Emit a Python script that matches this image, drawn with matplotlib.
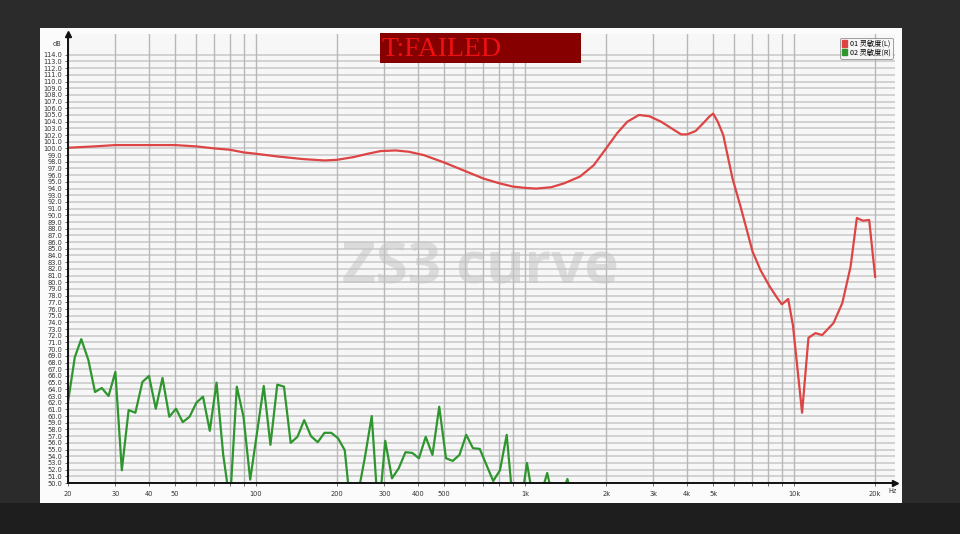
import numpy as np
import matplotlib
matplotlib.use("Agg")
import matplotlib.pyplot as plt
from matplotlib.patches import Rectangle, Patch
from matplotlib.ticker import FixedLocator, NullFormatter

# ---------------- data ----------------
red_freq = [20, 25, 30, 40, 50, 60, 70, 80, 90, 100, 120, 150, 180, 200, 230, 260,
            290, 330, 370, 420, 500, 600, 700, 800, 900, 1000, 1100, 1250, 1400,
            1600, 1800, 2000, 2200, 2400, 2650, 2900, 3200, 3500, 3800, 4000, 4300,
            4600, 4850, 5000, 5200, 5450, 5900, 6300, 6700, 7000, 7500, 8100, 8600,
            9000, 9500, 9900, 10700, 11300, 12000, 12700, 14000, 15100, 16200,
            17100, 18000, 19000, 20000]
red_db = [100.1, 100.3, 100.5, 100.5, 100.5, 100.3, 100.0, 99.8, 99.4, 99.2, 98.8,
          98.4, 98.2, 98.3, 98.7, 99.2, 99.6, 99.7, 99.5, 99.0, 97.9, 96.6, 95.5,
          94.8, 94.3, 94.1, 94.0, 94.2, 94.8, 95.8, 97.5, 100.0, 102.3, 104.0,
          105.0, 104.8, 104.0, 103.0, 102.1, 102.1, 102.6, 103.8, 104.8, 105.2,
          104.0, 102.0, 95.5, 91.5, 87.5, 84.6, 81.8, 79.4, 77.8, 76.7, 77.5, 73.5,
          60.5, 71.7, 72.4, 72.1, 73.9, 76.9, 82.3, 89.6, 89.2, 89.3, 80.8]

green_freq = [20.0, 21.2, 22.4, 23.8, 25.2, 26.7, 28.3, 30.0, 31.7, 33.6, 35.6, 37.8,
              40.0, 42.4, 44.9, 47.6, 50.4, 53.4, 56.6, 60.0, 63.5, 67.3, 71.3, 75.5,
              80.0, 84.8, 89.8, 95.1, 100.8, 106.8, 113.1, 119.9, 127.0, 134.5, 142.5,
              151.0, 160.0, 169.5, 179.6, 190.3, 201.6, 213.6, 226.3, 239.7, 254.0,
              269.1, 285.1, 302.1, 320.0, 339.0, 359.2, 380.5, 403.2, 427.1, 452.5,
              479.5, 508.0, 538.2, 570.2, 604.1, 640.0, 678.1, 718.4, 761.1, 806.3,
              854.3, 905.1, 958.9, 1015.9, 1076.3, 1140.3, 1208.1, 1279.9, 1356.0,
              1436.6, 1522.0]
green_db = [62.1, 68.8, 71.5, 68.4, 63.6, 64.2, 63.0, 66.6, 51.9, 60.9, 60.5, 65.1,
            66.0, 61.1, 65.7, 59.9, 61.1, 59.1, 59.9, 62.0, 62.9, 57.8, 65.0, 54.2,
            47.0, 64.4, 59.9, 50.5, 57.5, 64.5, 55.7, 64.7, 64.4, 56.0, 56.9, 59.4,
            57.0, 56.1, 57.5, 57.5, 56.7, 54.9, 45.0, 48.5, 53.9, 60.0, 45.0, 56.3,
            50.7, 52.2, 54.6, 54.5, 53.7, 56.9, 54.2, 61.4, 53.7, 53.3, 54.2, 57.2,
            55.2, 55.1, 52.7, 50.3, 51.9, 57.2, 46.0, 46.0, 53.0, 47.0, 48.0, 51.5,
            47.0, 48.0, 50.6, 46.0]

series_labels = ["01 灵敏度(L)", "02 灵敏度(R)"]
x_major = [20, 30, 40, 50, 100, 200, 300, 400, 500, 1000, 2000, 3000, 4000, 5000, 10000, 20000]
x_major_labels = ["20", "30", "40", "50", "100", "200", "300", "400", "500",
                  "1k", "2k", "3k", "4k", "5k", "10k", "20k"]
x_minor = [60, 70, 80, 90, 600, 700, 800, 900, 6000, 7000, 8000, 9000]
y_ticks = list(range(50, 115))

RED = "#dd4444"
GREEN = "#2f962f"

# ---------------- figure ----------------
plt.rcParams['font.family'] = ['DejaVu Sans']
fig = plt.figure(figsize=(9.6, 5.34), dpi=100)
fig.patch.set_facecolor("#2b2b2b")
W, H = 960, 534

def fx(px):
    return px / W

def fy(py):
    return 1 - py / H

# dark bottom band and white panel
fig.patches.append(Rectangle((0, 0), 1, fy(503), transform=fig.transFigure,
                             facecolor="#1e1e1e", edgecolor="none", zorder=-5))
fig.patches.append(Rectangle((fx(40), fy(503)), fx(902) - fx(40), fy(28) - fy(503),
                             transform=fig.transFigure, facecolor="#fbfbfb",
                             edgecolor="none", zorder=-4))

ax = fig.add_axes([fx(68), fy(483), fx(895) - fx(68), fy(34) - fy(483)])
ax.set_zorder(1)
ax.set_facecolor("#f7f7f7")
ax.set_xscale("log")
ax.set_xlim(20, 23700)
ax.set_ylim(50, 117.1)

# grid
for v in y_ticks:
    ax.axhline(v, color="#cbcbcb", lw=1.2, zorder=1)
for v in x_major + x_minor:
    ax.axvline(v, color="#b8b8b8", lw=1.0, zorder=1)

ax.plot(red_freq, red_db, color=RED, lw=1.6, zorder=4, solid_joinstyle="round")
ax.plot(green_freq, green_db, color=GREEN, lw=1.6, zorder=3, solid_joinstyle="round")

ax.xaxis.set_major_locator(FixedLocator(x_major))
ax.set_xticklabels(x_major_labels)
ax.xaxis.set_minor_locator(FixedLocator(x_minor))
ax.xaxis.set_minor_formatter(NullFormatter())
ax.set_yticks(y_ticks)
ax.set_yticklabels([f"{v:.1f}" for v in y_ticks])
ax.tick_params(axis="both", which="both", labelsize=4.8, length=2, width=0.6,
               color="#555555", labelcolor="#333333", pad=2)
ax.tick_params(axis="x", pad=4)

for s in ["top", "right"]:
    ax.spines[s].set_visible(False)
for s in ["left", "bottom"]:
    ax.spines[s].set_color("#111111")
    ax.spines[s].set_linewidth(1.4)
    ax.spines[s].set_zorder(6)

# arrows
ax.plot([0], [1], marker="^", color="#111111", markersize=4, transform=ax.transAxes,
        clip_on=False, zorder=7)
ax.plot([1], [0], marker=">", color="#111111", markersize=4, transform=ax.transAxes,
        clip_on=False, zorder=7)
ax.text(-0.008, 1.0 - (44 - 34) / 449, "dB", transform=ax.transAxes, ha="right",
        va="center", fontsize=4.8, color="#333333")
ax.text(0.997, -(491 - 483) / 449, "Hz", transform=ax.transAxes, ha="center",
        va="center", fontsize=4.8, color="#333333")

# title box
fig.patches.append(Rectangle((fx(380), fy(63)), fx(581) - fx(380), fy(33) - fy(63),
                             transform=fig.transFigure, facecolor="#860000",
                             edgecolor="none", zorder=5))
fig.text(fx(381), fy(49), "T:FAILED", ha="left", va="center", fontsize=20,
         color="#ee1111", family="Liberation Serif", zorder=6)

# watermark
fig.text(fx(480), fy(268), "ZS3 curve", ha="center", va="center", fontsize=42,
         color="#c4c4c4", alpha=0.55, family="Open Sans", fontweight="bold", zorder=8)

# legend
handles = [Patch(facecolor=RED, edgecolor=RED, label=series_labels[0]),
           Patch(facecolor=GREEN, edgecolor=GREEN, label=series_labels[1])]
leg = ax.legend(handles=handles, loc="upper right", bbox_to_anchor=(0.997, 0.992),
                prop={"family": ["Noto Sans CJK SC", "DejaVu Sans"], "size": 5.2},
                handlelength=0.6, handleheight=1.0, handletextpad=0.4,
                borderpad=0.3, labelspacing=0.1, frameon=True, fancybox=True,
                borderaxespad=0)
leg.get_frame().set_edgecolor("#777777")
leg.get_frame().set_linewidth(0.6)
leg.get_frame().set_facecolor("#f8f8f8")
leg.set_zorder(9)

fig.savefig("out.png", dpi=100, facecolor=fig.get_facecolor())
